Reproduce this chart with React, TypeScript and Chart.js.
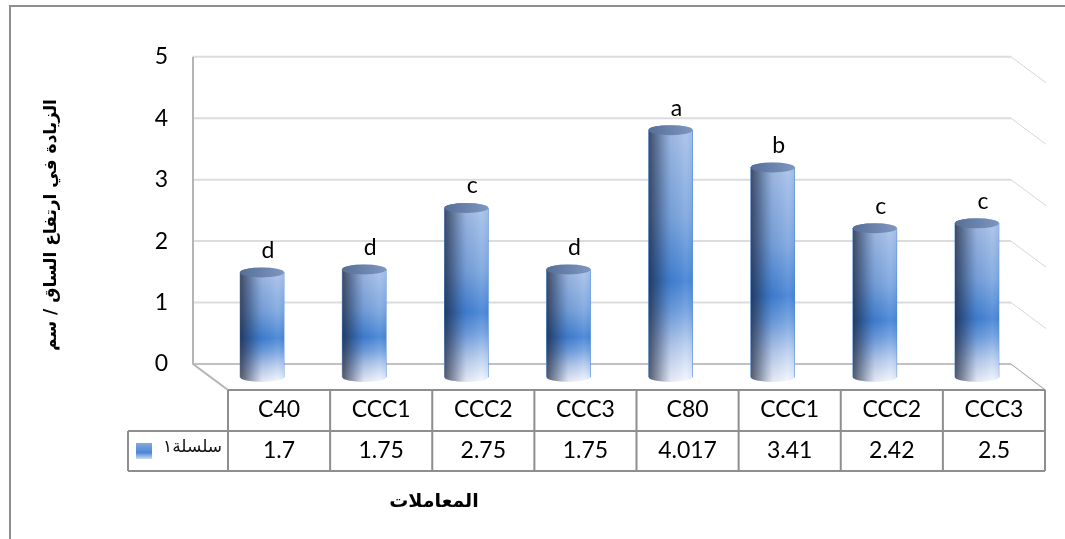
import React, { useEffect, useRef } from "react";
import { Chart, registerables } from "chart.js";

Chart.register(...registerables);

const treatments = ["C40", "CCC1", "CCC2", "CCC3", "C80", "CCC1", "CCC2", "CCC3"];
const heightGain = [1.7, 1.75, 2.75, 1.75, 4.017, 3.41, 2.42, 2.5];
const tableValues = ["1.7", "1.75", "2.75", "1.75", "4.017", "3.41", "2.42", "2.5"];
const significance = ["d", "d", "c", "d", "a", "b", "c", "c"];
const seriesName = "سلسلة١";
const yTitle = "الزيادة في ارتفاع الساق / سم";
const xTitle = "المعاملات";

const LATIN = "Lato, Carlito, sans-serif";
const ARABIC = '"DejaVu Sans", sans-serif';
const FRAME = "#8e8e8e";

// Depth of the 3D box: the back wall sits up-left of the plotting plane, the table edge down-right.
const BACK_DX = 18;
const FRONT_DX = 17;
const FLOOR_DY = 26;

const boxPlugin = {
  id: "box3d",
  beforeDatasetsDraw(chart: any) {
    const { ctx, chartArea, scales } = chart;
    const backL = chartArea.left - BACK_DX;
    const backR = chartArea.right - BACK_DX + 1;
    const y0 = scales.y.getPixelForValue(0);
    const y5 = scales.y.getPixelForValue(5);
    const frontL = chartArea.left + FRONT_DX;
    const frontR = chartArea.right + FRONT_DX;
    ctx.save();
    for (let v = 0; v <= 5; v++) {
      const y = scales.y.getPixelForValue(v);
      ctx.strokeStyle = v === 0 ? "#c4bfc0" : "#dcdcdc";
      ctx.lineWidth = 2;
      ctx.beginPath();
      ctx.moveTo(backL, y);
      ctx.lineTo(backR, y);
      ctx.stroke();
      ctx.strokeStyle = "#d6d6d6";
      ctx.lineWidth = 1;
      ctx.beginPath();
      ctx.moveTo(backR, y);
      ctx.lineTo(backR + 35, y + FLOOR_DY);
      ctx.stroke();
    }
    ctx.strokeStyle = "#b4b4b4";
    ctx.lineWidth = 2;
    ctx.beginPath();
    ctx.moveTo(backL, y5);
    ctx.lineTo(backL, y0);
    ctx.lineTo(frontL, y0 + FLOOR_DY);
    ctx.stroke();
    ctx.strokeStyle = "#a8a8a8";
    ctx.lineWidth = 1;
    ctx.beginPath();
    ctx.moveTo(backR, y0);
    ctx.lineTo(frontR, y0 + FLOOR_DY);
    ctx.stroke();
    ctx.restore();
  },
};

const cylinderPlugin = {
  id: "cylinders",
  afterDatasetsDraw(chart: any) {
    const { ctx } = chart;
    const bars = chart.getDatasetMeta(0).data;
    bars.forEach((bar: any, i: number) => {
      const half = bar.width / 2;
      const left = bar.x - half;
      const right = bar.x + half;
      const top = bar.y;
      const base = bar.base;
      const ry = 5;

      // The library's flat bar is repainted as a round column with the same geometry
      ctx.save();
      ctx.beginPath();
      ctx.moveTo(left, top);
      ctx.lineTo(left, base);
      ctx.ellipse(bar.x, base, half, ry, 0, Math.PI, 0, true);
      ctx.lineTo(right, top);
      ctx.ellipse(bar.x, top, half, ry, 0, 0, Math.PI, true);
      ctx.closePath();
      ctx.clip();

      const body = ctx.createLinearGradient(0, top, 0, base + ry);
      body.addColorStop(0, "#a6c0e9");
      body.addColorStop(0.35, "#7aa5df");
      body.addColorStop(0.6, "#3f80d4");
      body.addColorStop(0.72, "#6f9fe0");
      body.addColorStop(0.85, "#b5cbee");
      body.addColorStop(1, "#f4f7fe");
      ctx.fillStyle = body;
      ctx.fillRect(left, top - ry, bar.width, base - top + 2 * ry);

      const shade = ctx.createLinearGradient(left, 0, right, 0);
      shade.addColorStop(0, "rgba(25,30,50,0.72)");
      shade.addColorStop(0.22, "rgba(25,40,70,0.45)");
      shade.addColorStop(0.5, "rgba(40,60,100,0.08)");
      shade.addColorStop(0.85, "rgba(255,255,255,0.1)");
      shade.addColorStop(1, "rgba(120,150,200,0.12)");
      ctx.fillStyle = shade;
      ctx.fillRect(left, top - ry, bar.width, base - top + 2 * ry);
      ctx.restore();

      const cap = ctx.createLinearGradient(left, 0, right, 0);
      cap.addColorStop(0, "#566f99");
      cap.addColorStop(1, "#7f97bf");
      ctx.fillStyle = cap;
      ctx.beginPath();
      ctx.ellipse(bar.x, top, half, ry, 0, 0, Math.PI * 2);
      ctx.fill();

      ctx.fillStyle = "#000";
      ctx.font = `23px ${LATIN}`;
      ctx.textAlign = "center";
      ctx.textBaseline = "middle";
      ctx.fillText(significance[i], bar.x + 6, top - 22);
    });
  },
};

const tablePlugin = {
  id: "dataTable",
  afterDraw(chart: any) {
    const { ctx, chartArea, scales } = chart;
    const n = treatments.length;
    const x0 = chartArea.left + FRONT_DX;
    const step = scales.x.getPixelForValue(1) - scales.x.getPixelForValue(0);
    const colX = (i: number) => x0 + step * i;
    const rowTop = scales.y.getPixelForValue(0) + FLOOR_DY;
    const rowMid = rowTop + 41;
    const rowEnd = rowMid + 40;
    const keyLeft = 128;

    ctx.save();
    ctx.strokeStyle = FRAME;
    ctx.lineWidth = 2;
    ctx.beginPath();
    ctx.moveTo(x0, rowTop);
    ctx.lineTo(colX(n), rowTop);
    ctx.moveTo(keyLeft, rowMid);
    ctx.lineTo(colX(n), rowMid);
    ctx.moveTo(keyLeft, rowEnd);
    ctx.lineTo(colX(n), rowEnd);
    ctx.moveTo(keyLeft, rowMid);
    ctx.lineTo(keyLeft, rowEnd);
    for (let i = 0; i <= n; i++) {
      ctx.moveTo(colX(i), rowTop);
      ctx.lineTo(colX(i), rowEnd);
    }
    ctx.stroke();

    ctx.fillStyle = "#000";
    ctx.font = `23px ${LATIN}`;
    ctx.textAlign = "center";
    ctx.textBaseline = "middle";
    treatments.forEach((t, i) => {
      ctx.fillText(t, colX(i) + step / 2, rowTop + 20);
      ctx.fillText(tableValues[i], colX(i) + step / 2, rowMid + 20);
    });

    const key = ctx.createLinearGradient(0, rowMid + 12, 0, rowMid + 28);
    key.addColorStop(0, "#86a9dd");
    key.addColorStop(0.6, "#4a87d6");
    key.addColorStop(1, "#cfdcf2");
    ctx.fillStyle = key;
    ctx.fillRect(136, rowMid + 12, 16, 16);

    ctx.fillStyle = "#111";
    ctx.font = `17px ${ARABIC}`;
    ctx.textAlign = "right";
    ctx.fillText(seriesName, 222, rowMid + 17);

    // Axis titles
    ctx.fillStyle = "#000";
    ctx.textAlign = "center";
    ctx.font = `bold 19px ${ARABIC}`;
    ctx.fillText(xTitle, 434, 502);
    ctx.font = `bold 17px ${ARABIC}`;
    ctx.translate(52, 225);
    ctx.rotate(-Math.PI / 2);
    ctx.fillText(yTitle, 0, 0);
    ctx.restore();

    // Outer frame: only the top and left edges fall inside the canvas
    ctx.save();
    ctx.strokeStyle = FRAME;
    ctx.lineWidth = 2;
    ctx.beginPath();
    ctx.moveTo(1065, 6);
    ctx.lineTo(10, 6);
    ctx.lineTo(10, 539);
    ctx.stroke();
    ctx.restore();
  },
};

export default function App() {
  const ref = useRef<HTMLCanvasElement>(null);

  useEffect(() => {
    const chart = new Chart(ref.current as HTMLCanvasElement, {
      type: "bar",
      data: {
        labels: treatments,
        datasets: [
          {
            label: seriesName,
            data: heightGain,
            yAxisID: "yBars",
            backgroundColor: "#4a87d6",
            barThickness: 44,
            clip: false,
          } as any,
        ],
      },
      options: {
        responsive: false,
        animation: false,
        layout: { padding: { left: 0, right: 37, top: 56, bottom: 175 } },
        plugins: { legend: { display: false }, tooltip: { enabled: false } },
        scales: {
          x: { display: false, grid: { display: false } },
          y: {
            min: 0,
            max: 5,
            position: "left",
            afterFit: (s: any) => {
              s.width = 211;
            },
            grid: { display: false, drawTicks: false },
            border: { display: false },
            ticks: {
              stepSize: 1,
              padding: 43,
              color: "#000",
              font: { family: LATIN, size: 23 },
            },
          },
          // Cylinders stand forward of the back wall, so their zero sits lower on the page
          yBars: { display: false, min: 0.211, max: 5.211 },
        },
      },
      plugins: [boxPlugin, cylinderPlugin, tablePlugin],
    } as any);
    return () => chart.destroy();
  }, []);

  return (
    <div style={{ position: "absolute", left: 0, top: 0, width: 1065, height: 539, background: "#fff" }}>
      <canvas ref={ref} width={1065} height={539} style={{ display: "block" }} />
    </div>
  );
}
